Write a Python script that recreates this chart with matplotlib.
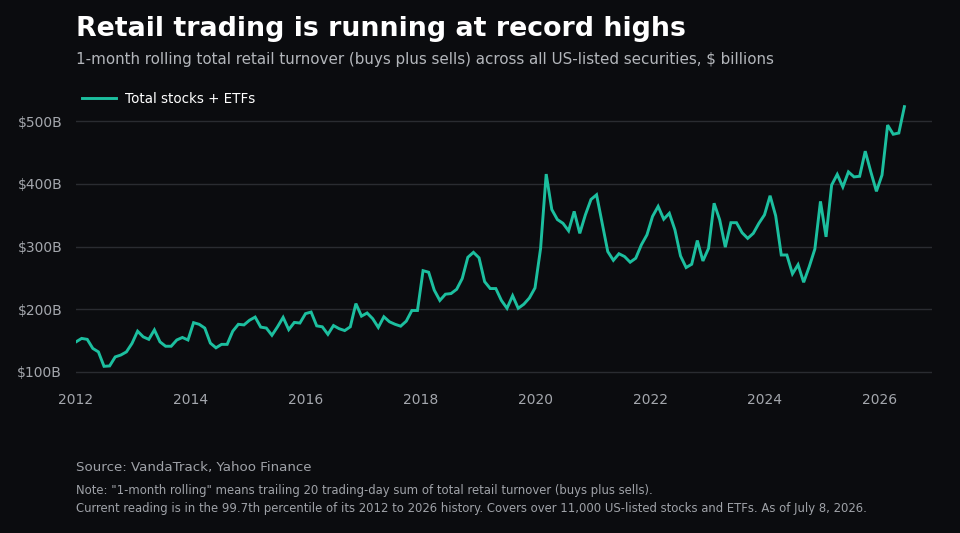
"""Retail turnover line chart, dark theme."""

import matplotlib

matplotlib.use("Agg")

import matplotlib.pyplot as plt  # noqa: E402
import pandas as pd  # noqa: E402

BG = "#0b0c0f"
LINE = "#1cbf9f"
GRID = "#2a2c31"
TICK_TXT = "#a4a7ad"
SUB_TXT = "#b3b6bb"
NOTE_TXT = "#9fa2a8"

# 1-month rolling retail turnover, $ billions
turnover = [
    148, 153.5, 152, 137.5, 132, 109, 109.6, 124, 127, 132, 145.5, 165,
    156, 152, 167, 148, 141, 141, 151, 155, 151, 178.6, 176,
    170, 146, 138.5, 144, 144, 165, 176, 175, 182.5, 187.5, 171.5, 170,
    158.5, 172, 187, 167.5, 179, 178, 193, 195.5, 173.5, 172,
    160, 174, 169, 166, 172, 209, 189, 194, 185, 171, 188, 180, 176, 173,
    181, 198, 198, 261.5, 259, 230.5, 214,
    224, 225, 231.8, 249, 282.8, 290.7, 282, 244, 233, 233, 214, 201.5,
    221.6, 201.5, 208, 218, 234, 297, 415.5, 359, 343,
    337, 325, 356, 321, 350.5, 375, 382.5, 337, 292, 278, 288.5, 284, 275,
    281.4, 302.7, 318.6, 348, 364, 343.6, 353, 326.6,
    285, 266.5, 271.8, 309.6, 277, 297, 369, 342.5, 299, 338, 338, 322,
    313, 321, 337, 350.5, 381, 349, 286.5, 286.5, 256.5, 271, 243,
    268, 296, 372, 315.4, 398, 415, 395, 419, 411, 412, 452, 419, 388, 414,
    493.6, 479, 481, 523,
]
first_date = "2012-01-01"
last_date = "2026-06-08"

y_ticks = [100, 200, 300, 400, 500]
y_labels = ["$100B", "$200B", "$300B", "$400B", "$500B"]
x_tick_years = [2012, 2014, 2016, 2018, 2020, 2022, 2024, 2026]

title = "Retail trading is running at record highs"
subtitle = ("1-month rolling total retail turnover (buys plus sells) across all "
            "US-listed securities, $ billions")
series_label = "Total stocks + ETFs"
source = "Source: VandaTrack, Yahoo Finance"
note_lines = [
    'Note: "1-month rolling" means trailing 20 trading-day sum of total retail '
    "turnover (buys plus sells).",
    "Current reading is in the 99.7th percentile of its 2012 to 2026 history. "
    "Covers over 11,000 US-listed stocks and ETFs. As of July 8, 2026.",
]

plt.rcParams["font.family"] = "DejaVu Sans"

dates = pd.date_range(first_date, last_date, periods=len(turnover))

fig = plt.figure(figsize=(9.6, 5.33), dpi=100, facecolor=BG)
ax = fig.add_axes([0.0792, 0.2786, 0.8917, 0.5413])
ax.set_facecolor(BG)

line, = ax.plot(dates, turnover, color=LINE, linewidth=2.1,
                solid_joinstyle="miter", label=series_label, zorder=3)

ax.set_xlim(pd.Timestamp("2012-01-01"), pd.Timestamp("2026-12-01"))
ax.set_ylim(80, 540)
ax.set_yticks(y_ticks, y_labels)
ax.set_xticks([pd.Timestamp(f"{y}-01-01") for y in x_tick_years],
              [str(y) for y in x_tick_years])
ax.grid(axis="y", color=GRID, linewidth=1.0)
ax.grid(axis="x", visible=False)
ax.tick_params(axis="both", length=0, labelcolor=TICK_TXT, labelsize=10)
ax.tick_params(axis="y", pad=10)
ax.tick_params(axis="x", pad=6)
for spine in ax.spines.values():
    spine.set_visible(False)

fig.text(0.0792, 1 - 36 / 533, title, color="white", fontsize=19.3,
         fontweight="bold", va="baseline")
fig.text(0.0792, 1 - 64 / 533, subtitle, color=SUB_TXT, fontsize=10.9,
         va="baseline")
fig.legend(handles=[line], loc="center left",
           bbox_to_anchor=(82 / 960, 1 - 99 / 533), frameon=False,
           fontsize=9.75, labelcolor="white", handlelength=2.5,
           handletextpad=0.65, borderpad=0, borderaxespad=0)

fig.text(0.0792, 1 - 471 / 533, source, color=NOTE_TXT, fontsize=9.65,
         va="baseline")
fig.text(0.0792, 1 - 494 / 533, note_lines[0], color=NOTE_TXT, fontsize=8.4,
         va="baseline")
fig.text(0.0792, 1 - 512 / 533, note_lines[1], color=NOTE_TXT, fontsize=8.4,
         va="baseline")

fig.savefig("out.png", dpi=100, facecolor=BG)
